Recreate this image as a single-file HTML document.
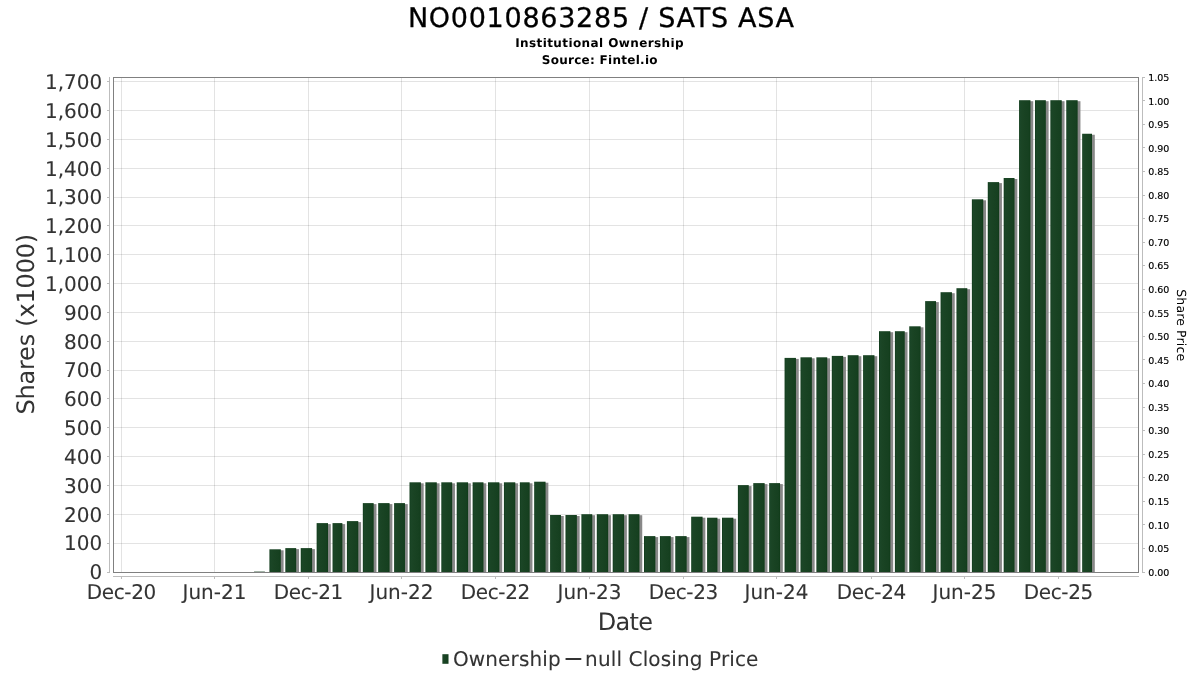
<!DOCTYPE html>
<html lang="en"><head><meta charset="utf-8"><title>NO0010863285 / SATS ASA - Institutional Ownership</title>
<style>html,body{margin:0;padding:0;background:#fff}body{width:1200px;height:675px;overflow:hidden}svg{display:block}text{font-family:"DejaVu Sans","Liberation Sans",sans-serif;text-rendering:geometricPrecision}.t20{font-size:20px;fill:#333;stroke:#333;stroke-width:0.1px}.t10{font-size:9.5px;fill:#000;stroke:#000;stroke-width:0.15px}.t10 text{text-rendering:auto}</style></head><body>
<svg width="1200" height="675" viewBox="0 0 1200 675">
<defs><linearGradient id="g" x1="0" x2="1" y1="0" y2="0"><stop offset="0" stop-color="#0f3a19"/><stop offset="0.12" stop-color="#1b4627"/><stop offset="0.3" stop-color="#1a4424"/><stop offset="0.85" stop-color="#164020"/><stop offset="1" stop-color="#0f3b18"/></linearGradient></defs>
<rect width="1200" height="675" fill="#fff"/>
<text x="407.9" y="27" font-size="27" fill="#000" stroke="#000" stroke-width="0.3" textLength="386.2" lengthAdjust="spacing">NO0010863285 / SATS ASA</text>
<text x="515.2" y="47" font-size="12" font-weight="bold" fill="#000" textLength="168.4" lengthAdjust="spacing">Institutional Ownership</text>
<text x="541.7" y="64" font-size="12" font-weight="bold" fill="#000" textLength="115.9" lengthAdjust="spacing">Source: Fintel.io</text>
<g shape-rendering="crispEdges" stroke="#000" stroke-opacity="0.11" stroke-width="1">
<line x1="114" x2="1138" y1="543.5" y2="543.5"/>
<line x1="114" x2="1138" y1="514.5" y2="514.5"/>
<line x1="114" x2="1138" y1="485.5" y2="485.5"/>
<line x1="114" x2="1138" y1="456.5" y2="456.5"/>
<line x1="114" x2="1138" y1="427.5" y2="427.5"/>
<line x1="114" x2="1138" y1="398.5" y2="398.5"/>
<line x1="114" x2="1138" y1="370.5" y2="370.5"/>
<line x1="114" x2="1138" y1="341.5" y2="341.5"/>
<line x1="114" x2="1138" y1="312.5" y2="312.5"/>
<line x1="114" x2="1138" y1="283.5" y2="283.5"/>
<line x1="114" x2="1138" y1="254.5" y2="254.5"/>
<line x1="114" x2="1138" y1="225.5" y2="225.5"/>
<line x1="114" x2="1138" y1="197.5" y2="197.5"/>
<line x1="114" x2="1138" y1="168.5" y2="168.5"/>
<line x1="114" x2="1138" y1="139.5" y2="139.5"/>
<line x1="114" x2="1138" y1="110.5" y2="110.5"/>
<line x1="114" x2="1138" y1="81.5" y2="81.5"/>
<line x1="121.5" x2="121.5" y1="78" y2="572"/>
<line x1="214.5" x2="214.5" y1="78" y2="572"/>
<line x1="308.5" x2="308.5" y1="78" y2="572"/>
<line x1="401.5" x2="401.5" y1="78" y2="572"/>
<line x1="495.5" x2="495.5" y1="78" y2="572"/>
<line x1="589.5" x2="589.5" y1="78" y2="572"/>
<line x1="683.5" x2="683.5" y1="78" y2="572"/>
<line x1="776.5" x2="776.5" y1="78" y2="572"/>
<line x1="871.5" x2="871.5" y1="78" y2="572"/>
<line x1="964.5" x2="964.5" y1="78" y2="572"/>
<line x1="1058.5" x2="1058.5" y1="78" y2="572"/>
</g>
<g>
<rect x="254.04" y="571.60" width="10.84" height="0.90" fill="#1a4424"/>
<rect x="272.23" y="550.30" width="11.36" height="21.70" fill="#888"/>
<rect x="269.43" y="549.30" width="11.36" height="23.00" fill="url(#g)"/>
<rect x="288.14" y="549.10" width="10.84" height="22.90" fill="#888"/>
<rect x="285.34" y="548.10" width="10.84" height="24.20" fill="url(#g)"/>
<rect x="303.53" y="549.10" width="11.36" height="22.90" fill="#888"/>
<rect x="300.73" y="548.10" width="11.36" height="24.20" fill="url(#g)"/>
<rect x="319.44" y="524.10" width="11.36" height="47.90" fill="#888"/>
<rect x="316.64" y="523.10" width="11.36" height="49.20" fill="url(#g)"/>
<rect x="335.34" y="524.10" width="9.82" height="47.90" fill="#888"/>
<rect x="332.54" y="523.10" width="9.82" height="49.20" fill="url(#g)"/>
<rect x="349.71" y="522.10" width="11.36" height="49.90" fill="#888"/>
<rect x="346.91" y="521.10" width="11.36" height="51.20" fill="url(#g)"/>
<rect x="365.62" y="504.10" width="10.84" height="67.90" fill="#888"/>
<rect x="362.82" y="503.10" width="10.84" height="69.20" fill="url(#g)"/>
<rect x="381.01" y="504.10" width="11.36" height="67.90" fill="#888"/>
<rect x="378.21" y="503.10" width="11.36" height="69.20" fill="url(#g)"/>
<rect x="396.92" y="504.10" width="10.84" height="67.90" fill="#888"/>
<rect x="394.12" y="503.10" width="10.84" height="69.20" fill="url(#g)"/>
<rect x="412.31" y="483.30" width="11.36" height="88.70" fill="#888"/>
<rect x="409.51" y="482.30" width="11.36" height="90.00" fill="url(#g)"/>
<rect x="428.21" y="483.30" width="11.36" height="88.70" fill="#888"/>
<rect x="425.41" y="482.30" width="11.36" height="90.00" fill="url(#g)"/>
<rect x="444.12" y="483.30" width="10.84" height="88.70" fill="#888"/>
<rect x="441.32" y="482.30" width="10.84" height="90.00" fill="url(#g)"/>
<rect x="459.51" y="483.30" width="11.36" height="88.70" fill="#888"/>
<rect x="456.71" y="482.30" width="11.36" height="90.00" fill="url(#g)"/>
<rect x="475.42" y="483.30" width="10.84" height="88.70" fill="#888"/>
<rect x="472.62" y="482.30" width="10.84" height="90.00" fill="url(#g)"/>
<rect x="490.81" y="483.30" width="11.36" height="88.70" fill="#888"/>
<rect x="488.01" y="482.30" width="11.36" height="90.00" fill="url(#g)"/>
<rect x="506.72" y="483.30" width="11.36" height="88.70" fill="#888"/>
<rect x="503.92" y="482.30" width="11.36" height="90.00" fill="url(#g)"/>
<rect x="522.63" y="483.30" width="9.82" height="88.70" fill="#888"/>
<rect x="519.83" y="482.30" width="9.82" height="90.00" fill="url(#g)"/>
<rect x="536.99" y="482.70" width="11.36" height="89.30" fill="#888"/>
<rect x="534.19" y="481.70" width="11.36" height="90.60" fill="url(#g)"/>
<rect x="552.90" y="516.00" width="10.84" height="56.00" fill="#888"/>
<rect x="550.10" y="515.00" width="10.84" height="57.30" fill="url(#g)"/>
<rect x="568.29" y="516.00" width="11.36" height="56.00" fill="#888"/>
<rect x="565.49" y="515.00" width="11.36" height="57.30" fill="url(#g)"/>
<rect x="584.20" y="515.20" width="10.84" height="56.80" fill="#888"/>
<rect x="581.40" y="514.20" width="10.84" height="58.10" fill="url(#g)"/>
<rect x="599.59" y="515.20" width="11.36" height="56.80" fill="#888"/>
<rect x="596.79" y="514.20" width="11.36" height="58.10" fill="url(#g)"/>
<rect x="615.50" y="515.20" width="11.36" height="56.80" fill="#888"/>
<rect x="612.70" y="514.20" width="11.36" height="58.10" fill="url(#g)"/>
<rect x="631.40" y="515.20" width="10.84" height="56.80" fill="#888"/>
<rect x="628.60" y="514.20" width="10.84" height="58.10" fill="url(#g)"/>
<rect x="646.80" y="537.10" width="11.36" height="34.90" fill="#888"/>
<rect x="644.00" y="536.10" width="11.36" height="36.20" fill="url(#g)"/>
<rect x="662.70" y="537.10" width="10.84" height="34.90" fill="#888"/>
<rect x="659.90" y="536.10" width="10.84" height="36.20" fill="url(#g)"/>
<rect x="678.09" y="537.10" width="11.36" height="34.90" fill="#888"/>
<rect x="675.29" y="536.10" width="11.36" height="36.20" fill="url(#g)"/>
<rect x="694.00" y="517.70" width="11.36" height="54.30" fill="#888"/>
<rect x="691.20" y="516.70" width="11.36" height="55.60" fill="url(#g)"/>
<rect x="709.91" y="518.70" width="10.33" height="53.30" fill="#888"/>
<rect x="707.11" y="517.70" width="10.33" height="54.60" fill="url(#g)"/>
<rect x="724.79" y="518.70" width="11.36" height="53.30" fill="#888"/>
<rect x="721.99" y="517.70" width="11.36" height="54.60" fill="url(#g)"/>
<rect x="740.69" y="486.10" width="10.84" height="85.90" fill="#888"/>
<rect x="737.89" y="485.10" width="10.84" height="87.20" fill="url(#g)"/>
<rect x="756.09" y="484.10" width="11.36" height="87.90" fill="#888"/>
<rect x="753.29" y="483.10" width="11.36" height="89.20" fill="url(#g)"/>
<rect x="771.99" y="484.10" width="10.84" height="87.90" fill="#888"/>
<rect x="769.19" y="483.10" width="10.84" height="89.20" fill="url(#g)"/>
<rect x="787.38" y="358.90" width="11.36" height="213.10" fill="#888"/>
<rect x="784.58" y="357.90" width="11.36" height="214.40" fill="url(#g)"/>
<rect x="803.29" y="358.30" width="11.36" height="213.70" fill="#888"/>
<rect x="800.49" y="357.30" width="11.36" height="215.00" fill="url(#g)"/>
<rect x="819.20" y="358.30" width="10.84" height="213.70" fill="#888"/>
<rect x="816.40" y="357.30" width="10.84" height="215.00" fill="url(#g)"/>
<rect x="834.59" y="356.90" width="11.36" height="215.10" fill="#888"/>
<rect x="831.79" y="355.90" width="11.36" height="216.40" fill="url(#g)"/>
<rect x="850.50" y="356.20" width="10.84" height="215.80" fill="#888"/>
<rect x="847.70" y="355.20" width="10.84" height="217.10" fill="url(#g)"/>
<rect x="865.89" y="356.20" width="11.36" height="215.80" fill="#888"/>
<rect x="863.09" y="355.20" width="11.36" height="217.10" fill="url(#g)"/>
<rect x="881.80" y="332.20" width="11.36" height="239.80" fill="#888"/>
<rect x="879.00" y="331.20" width="11.36" height="241.10" fill="url(#g)"/>
<rect x="897.70" y="332.20" width="9.82" height="239.80" fill="#888"/>
<rect x="894.90" y="331.20" width="9.82" height="241.10" fill="url(#g)"/>
<rect x="912.07" y="327.30" width="11.36" height="244.70" fill="#888"/>
<rect x="909.27" y="326.30" width="11.36" height="246.00" fill="url(#g)"/>
<rect x="927.97" y="302.10" width="10.84" height="269.90" fill="#888"/>
<rect x="925.17" y="301.10" width="10.84" height="271.20" fill="url(#g)"/>
<rect x="943.37" y="293.20" width="11.36" height="278.80" fill="#888"/>
<rect x="940.57" y="292.20" width="11.36" height="280.10" fill="url(#g)"/>
<rect x="959.27" y="289.20" width="10.84" height="282.80" fill="#888"/>
<rect x="956.47" y="288.20" width="10.84" height="284.10" fill="url(#g)"/>
<rect x="974.67" y="200.30" width="11.36" height="371.70" fill="#888"/>
<rect x="971.87" y="199.30" width="11.36" height="373.00" fill="url(#g)"/>
<rect x="990.57" y="183.10" width="11.36" height="388.90" fill="#888"/>
<rect x="987.77" y="182.10" width="11.36" height="390.20" fill="url(#g)"/>
<rect x="1006.48" y="179.00" width="10.84" height="393.00" fill="#888"/>
<rect x="1003.68" y="178.00" width="10.84" height="394.30" fill="url(#g)"/>
<rect x="1021.87" y="101.20" width="11.36" height="470.80" fill="#888"/>
<rect x="1019.07" y="100.20" width="11.36" height="472.10" fill="url(#g)"/>
<rect x="1037.78" y="101.20" width="10.84" height="470.80" fill="#888"/>
<rect x="1034.98" y="100.20" width="10.84" height="472.10" fill="url(#g)"/>
<rect x="1053.17" y="101.20" width="11.36" height="470.80" fill="#888"/>
<rect x="1050.37" y="100.20" width="11.36" height="472.10" fill="url(#g)"/>
<rect x="1069.08" y="101.20" width="11.36" height="470.80" fill="#888"/>
<rect x="1066.28" y="100.20" width="11.36" height="472.10" fill="url(#g)"/>
<rect x="1084.98" y="134.75" width="9.82" height="437.25" fill="#888"/>
<rect x="1082.18" y="133.75" width="9.82" height="438.55" fill="url(#g)"/>
</g>
<g shape-rendering="crispEdges" fill="none">
<rect x="113.5" y="77.5" width="1025" height="495" stroke="#808080"/>
<g stroke="#bdbdbd">
<line x1="109.5" x2="109.5" y1="77" y2="573"/>
<line x1="1142.5" x2="1142.5" y1="77" y2="573"/>
<line x1="113" x2="1139" y1="576.5" y2="576.5"/>
<line x1="107" x2="109" y1="572.5" y2="572.5"/>
<line x1="107" x2="109" y1="543.5" y2="543.5"/>
<line x1="107" x2="109" y1="514.5" y2="514.5"/>
<line x1="107" x2="109" y1="485.5" y2="485.5"/>
<line x1="107" x2="109" y1="456.5" y2="456.5"/>
<line x1="107" x2="109" y1="427.5" y2="427.5"/>
<line x1="107" x2="109" y1="398.5" y2="398.5"/>
<line x1="107" x2="109" y1="370.5" y2="370.5"/>
<line x1="107" x2="109" y1="341.5" y2="341.5"/>
<line x1="107" x2="109" y1="312.5" y2="312.5"/>
<line x1="107" x2="109" y1="283.5" y2="283.5"/>
<line x1="107" x2="109" y1="254.5" y2="254.5"/>
<line x1="107" x2="109" y1="225.5" y2="225.5"/>
<line x1="107" x2="109" y1="197.5" y2="197.5"/>
<line x1="107" x2="109" y1="168.5" y2="168.5"/>
<line x1="107" x2="109" y1="139.5" y2="139.5"/>
<line x1="107" x2="109" y1="110.5" y2="110.5"/>
<line x1="107" x2="109" y1="81.5" y2="81.5"/>
<line x1="1143" x2="1145" y1="572.5" y2="572.5"/>
<line x1="1143" x2="1145" y1="548.5" y2="548.5"/>
<line x1="1143" x2="1145" y1="524.5" y2="524.5"/>
<line x1="1143" x2="1145" y1="501.5" y2="501.5"/>
<line x1="1143" x2="1145" y1="477.5" y2="477.5"/>
<line x1="1143" x2="1145" y1="454.5" y2="454.5"/>
<line x1="1143" x2="1145" y1="430.5" y2="430.5"/>
<line x1="1143" x2="1145" y1="407.5" y2="407.5"/>
<line x1="1143" x2="1145" y1="383.5" y2="383.5"/>
<line x1="1143" x2="1145" y1="359.5" y2="359.5"/>
<line x1="1143" x2="1145" y1="336.5" y2="336.5"/>
<line x1="1143" x2="1145" y1="312.5" y2="312.5"/>
<line x1="1143" x2="1145" y1="289.5" y2="289.5"/>
<line x1="1143" x2="1145" y1="265.5" y2="265.5"/>
<line x1="1143" x2="1145" y1="242.5" y2="242.5"/>
<line x1="1143" x2="1145" y1="218.5" y2="218.5"/>
<line x1="1143" x2="1145" y1="195.5" y2="195.5"/>
<line x1="1143" x2="1145" y1="171.5" y2="171.5"/>
<line x1="1143" x2="1145" y1="147.5" y2="147.5"/>
<line x1="1143" x2="1145" y1="124.5" y2="124.5"/>
<line x1="1143" x2="1145" y1="100.5" y2="100.5"/>
<line x1="1143" x2="1145" y1="77.5" y2="77.5"/>
<line x1="121.5" x2="121.5" y1="577" y2="579"/>
<line x1="214.5" x2="214.5" y1="577" y2="579"/>
<line x1="308.5" x2="308.5" y1="577" y2="579"/>
<line x1="401.5" x2="401.5" y1="577" y2="579"/>
<line x1="495.5" x2="495.5" y1="577" y2="579"/>
<line x1="589.5" x2="589.5" y1="577" y2="579"/>
<line x1="683.5" x2="683.5" y1="577" y2="579"/>
<line x1="776.5" x2="776.5" y1="577" y2="579"/>
<line x1="871.5" x2="871.5" y1="577" y2="579"/>
<line x1="964.5" x2="964.5" y1="577" y2="579"/>
<line x1="1058.5" x2="1058.5" y1="577" y2="579"/>
</g></g>
<g class="t20" text-anchor="end">
<text transform="translate(102.3,579) scale(1,1.015)">0</text>
<text transform="translate(102.3,550) scale(1,1.015)">100</text>
<text transform="translate(102.3,522) scale(1,1.015)">200</text>
<text transform="translate(102.3,493) scale(1,1.015)">300</text>
<text transform="translate(102.3,464) scale(1,1.015)">400</text>
<text transform="translate(102.3,435) scale(1,1.015)">500</text>
<text transform="translate(102.3,406) scale(1,1.015)">600</text>
<text transform="translate(102.3,377) scale(1,1.015)">700</text>
<text transform="translate(102.3,349) scale(1,1.015)">800</text>
<text transform="translate(102.3,320) scale(1,1.015)">900</text>
<text transform="translate(102.3,291) scale(1,1.015)">1,000</text>
<text transform="translate(102.3,262) scale(1,1.015)">1,100</text>
<text transform="translate(102.3,233) scale(1,1.015)">1,200</text>
<text transform="translate(102.3,204) scale(1,1.015)">1,300</text>
<text transform="translate(102.3,176) scale(1,1.015)">1,400</text>
<text transform="translate(102.3,147) scale(1,1.015)">1,500</text>
<text transform="translate(102.3,118) scale(1,1.015)">1,600</text>
<text transform="translate(102.3,89) scale(1,1.015)">1,700</text>
</g>
<g class="t10">
<text x="1148.2" y="576">0.00</text>
<text x="1148.2" y="552">0.05</text>
<text x="1148.2" y="529">0.10</text>
<text x="1148.2" y="505">0.15</text>
<text x="1148.2" y="481">0.20</text>
<text x="1148.2" y="458">0.25</text>
<text x="1148.2" y="434">0.30</text>
<text x="1148.2" y="411">0.35</text>
<text x="1148.2" y="387">0.40</text>
<text x="1148.2" y="364">0.45</text>
<text x="1148.2" y="340">0.50</text>
<text x="1148.2" y="317">0.55</text>
<text x="1148.2" y="293">0.60</text>
<text x="1148.2" y="269">0.65</text>
<text x="1148.2" y="246">0.70</text>
<text x="1148.2" y="222">0.75</text>
<text x="1148.2" y="199">0.80</text>
<text x="1148.2" y="175">0.85</text>
<text x="1148.2" y="152">0.90</text>
<text x="1148.2" y="128">0.95</text>
<text x="1148.2" y="105">1.00</text>
<text x="1148.2" y="81">1.05</text>
</g>
<g class="t20">
<text transform="translate(86.65,599) scale(1,1.015)" textLength="69.7" lengthAdjust="spacing">Dec-20</text>
<text transform="translate(182.55,599) scale(1,1.015)" textLength="63.9" lengthAdjust="spacing">Jun-21</text>
<text transform="translate(273.65,599) scale(1,1.015)" textLength="69.7" lengthAdjust="spacing">Dec-21</text>
<text transform="translate(369.55,599) scale(1,1.015)" textLength="63.9" lengthAdjust="spacing">Jun-22</text>
<text transform="translate(460.65,599) scale(1,1.015)" textLength="69.7" lengthAdjust="spacing">Dec-22</text>
<text transform="translate(557.55,599) scale(1,1.015)" textLength="63.9" lengthAdjust="spacing">Jun-23</text>
<text transform="translate(648.65,599) scale(1,1.015)" textLength="69.7" lengthAdjust="spacing">Dec-23</text>
<text transform="translate(744.55,599) scale(1,1.015)" textLength="63.9" lengthAdjust="spacing">Jun-24</text>
<text transform="translate(836.65,599) scale(1,1.015)" textLength="69.7" lengthAdjust="spacing">Dec-24</text>
<text transform="translate(932.55,599) scale(1,1.015)" textLength="63.9" lengthAdjust="spacing">Jun-25</text>
<text transform="translate(1023.65,599) scale(1,1.015)" textLength="69.7" lengthAdjust="spacing">Dec-25</text>
</g>
<text x="597.65" y="630" font-size="24" fill="#333" textLength="55.4" lengthAdjust="spacing">Date</text>
<text transform="translate(34,414.6) rotate(-90)" font-size="24" fill="#333" textLength="180.8" lengthAdjust="spacing">Shares (x1000)</text>
<text transform="translate(1177,325.2) rotate(90)" font-size="12.5" fill="#000" text-anchor="middle" textLength="71.8" lengthAdjust="spacing">Share Price</text>
<rect x="442.4" y="654.2" width="6.1" height="9.6" fill="url(#g)"/>
<text transform="translate(452.9,665.8) scale(1,1.015)" class="t20" textLength="107.8" lengthAdjust="spacing">Ownership</text>
<line x1="566.3" x2="580.5" y1="659" y2="659" stroke="#333" stroke-width="2" stroke-linecap="round"/>
<text transform="translate(585.1,665.8) scale(1,1.015)" class="t20" textLength="173.3" lengthAdjust="spacing">null Closing Price</text>
</svg></body></html>
